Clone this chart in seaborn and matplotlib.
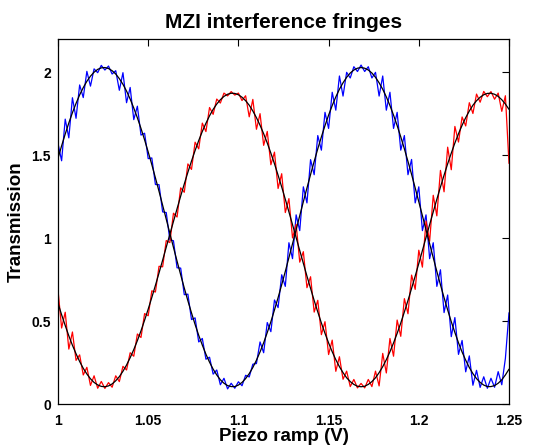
import numpy as np
import pandas as pd
import matplotlib
matplotlib.use("Agg")
import matplotlib.pyplot as plt
import seaborn as sns

# ---- data ----
x_start, x_stop, n_samples = 1.0, 1.25, 126   # sample grid of the piezo ramp

blue_signal = [1.571, 1.466, 1.717, 1.604, 1.846, 1.722, 1.923, 1.847, 2.005, 1.916,
               2.020, 1.997, 2.041, 2.013, 2.037, 1.989, 2.009, 1.891, 1.997, 1.816,
               1.908, 1.714, 1.795, 1.621, 1.632, 1.479, 1.483, 1.323, 1.322, 1.158,
               1.154, 0.989, 0.984, 0.821, 0.819, 0.659, 0.662, 0.509, 0.519, 0.374,
               0.395, 0.270, 0.282, 0.180, 0.205, 0.116, 0.155, 0.091, 0.125, 0.095,
               0.134, 0.110, 0.173, 0.163, 0.240, 0.244, 0.374, 0.309, 0.491, 0.436,
               0.627, 0.581, 0.779, 0.709, 0.972, 0.876, 1.140, 1.045, 1.309, 1.212,
               1.473, 1.382, 1.618, 1.530, 1.758, 1.661, 1.879, 1.771, 1.977, 1.856,
               1.999, 1.965, 2.033, 2.004, 2.043, 2.004, 2.033, 1.965, 1.999, 1.856,
               1.977, 1.771, 1.879, 1.661, 1.758, 1.530, 1.618, 1.382, 1.474, 1.212,
               1.309, 1.045, 1.140, 0.876, 0.972, 0.709, 0.809, 0.551, 0.657, 0.406,
               0.521, 0.299, 0.383, 0.194, 0.290, 0.113, 0.203, 0.100, 0.164, 0.095,
               0.155, 0.101, 0.195, 0.116, 0.275, 0.550]

red_signal = [0.687, 0.458, 0.553, 0.331, 0.434, 0.263, 0.296, 0.175, 0.221, 0.112,
              0.170, 0.095, 0.136, 0.094, 0.129, 0.101, 0.170, 0.135, 0.227, 0.205,
              0.309, 0.288, 0.422, 0.401, 0.545, 0.532, 0.682, 0.675, 0.830, 0.827,
              0.985, 0.973, 1.150, 1.127, 1.303, 1.276, 1.447, 1.414, 1.578, 1.538,
              1.693, 1.642, 1.787, 1.746, 1.838, 1.814, 1.874, 1.857, 1.883, 1.862,
              1.874, 1.829, 1.858, 1.731, 1.836, 1.656, 1.750, 1.559, 1.643, 1.442,
              1.518, 1.299, 1.388, 1.154, 1.238, 1.001, 1.083, 0.855, 0.918, 0.701,
              0.767, 0.554, 0.625, 0.418, 0.496, 0.298, 0.385, 0.197, 0.285, 0.149,
              0.198, 0.105, 0.148, 0.097, 0.124, 0.097, 0.148, 0.105, 0.198, 0.109,
              0.305, 0.187, 0.395, 0.288, 0.506, 0.408, 0.635, 0.544, 0.777, 0.691,
              0.927, 0.825, 1.103, 0.981, 1.258, 1.134, 1.408, 1.279, 1.548, 1.412,
              1.673, 1.579, 1.730, 1.676, 1.816, 1.751, 1.868, 1.819, 1.884, 1.852,
              1.883, 1.837, 1.874, 1.764, 1.858, 1.450]

blue_fit = [1.481, 1.556, 1.627, 1.694, 1.756, 1.812, 1.863, 1.907, 1.945, 1.976,
            2.000, 2.017, 2.026, 2.028, 2.022, 2.009, 1.989, 1.961, 1.927, 1.886,
            1.838, 1.784, 1.725, 1.661, 1.592, 1.519, 1.443, 1.363, 1.282, 1.198,
            1.114, 1.029, 0.944, 0.861, 0.779, 0.699, 0.622, 0.549, 0.479, 0.414,
            0.355, 0.300, 0.252, 0.210, 0.175, 0.146, 0.125, 0.111, 0.105, 0.105,
            0.114, 0.130, 0.153, 0.183, 0.220, 0.264, 0.314, 0.369, 0.431, 0.496,
            0.567, 0.641, 0.719, 0.799, 0.882, 0.966, 1.050, 1.135, 1.219, 1.302,
            1.383, 1.462, 1.538, 1.610, 1.678, 1.741, 1.799, 1.851, 1.897, 1.936,
            1.969, 1.995, 2.013, 2.024, 2.028, 2.024, 2.013, 1.995, 1.969, 1.936,
            1.897, 1.851, 1.799, 1.741, 1.678, 1.610, 1.538, 1.462, 1.384, 1.302,
            1.219, 1.135, 1.050, 0.966, 0.882, 0.799, 0.719, 0.641, 0.567, 0.496,
            0.431, 0.369, 0.313, 0.264, 0.220, 0.183, 0.153, 0.130, 0.114, 0.105,
            0.105, 0.111, 0.125, 0.146, 0.175, 0.210]

red_fit = [0.607, 0.538, 0.473, 0.411, 0.354, 0.303, 0.256, 0.215, 0.181, 0.152,
           0.130, 0.115, 0.106, 0.104, 0.109, 0.121, 0.140, 0.165, 0.197, 0.235,
           0.279, 0.328, 0.382, 0.441, 0.505, 0.572, 0.642, 0.715, 0.790, 0.867,
           0.945, 1.023, 1.100, 1.177, 1.253, 1.326, 1.397, 1.464, 1.528, 1.588,
           1.643, 1.692, 1.737, 1.776, 1.808, 1.834, 1.854, 1.867, 1.873, 1.872,
           1.864, 1.849, 1.828, 1.801, 1.766, 1.726, 1.680, 1.629, 1.573, 1.512,
           1.448, 1.379, 1.308, 1.234, 1.158, 1.081, 1.003, 0.925, 0.848, 0.771,
           0.697, 0.624, 0.555, 0.488, 0.426, 0.368, 0.315, 0.267, 0.225, 0.189,
           0.158, 0.135, 0.118, 0.107, 0.104, 0.107, 0.118, 0.135, 0.158, 0.189,
           0.225, 0.267, 0.315, 0.368, 0.426, 0.488, 0.555, 0.624, 0.697, 0.771,
           0.847, 0.925, 1.003, 1.081, 1.158, 1.234, 1.308, 1.379, 1.448, 1.512,
           1.573, 1.629, 1.680, 1.726, 1.766, 1.801, 1.828, 1.849, 1.864, 1.872,
           1.873, 1.867, 1.854, 1.834, 1.808, 1.776]

x_ticks = [1.0, 1.05, 1.1, 1.15, 1.2, 1.25]
x_tick_labels = ["1", "1.05", "1.1", "1.15", "1.2", "1.25"]
y_ticks = [0, 0.5, 1.0, 1.5, 2.0]
y_tick_labels = ["0", "0.5", "1", "1.5", "2"]

title_text = "MZI interference fringes"
x_label = "Piezo ramp (V)"
y_label = "Transmission"

# ---- figure ----
sns.set_theme(style="white")
plt.rcParams["font.family"] = ["Liberation Sans", "DejaVu Sans"]
plt.rcParams["font.weight"] = "bold"
plt.rcParams["text.color"] = "black"
plt.rcParams["axes.labelcolor"] = "black"
plt.rcParams["xtick.color"] = "black"
plt.rcParams["ytick.color"] = "black"

ramp = np.linspace(x_start, x_stop, n_samples)
df = pd.DataFrame({"ramp": ramp, "blue": blue_signal, "red": red_signal,
                   "blue_fit": blue_fit, "red_fit": red_fit})

fig = plt.figure(figsize=(5.36, 4.48), dpi=100)
ax = fig.add_axes([58 / 536, 44 / 448, 451 / 536, 365 / 448])

sns.lineplot(data=df, x="ramp", y="blue", color="#0000ff", linewidth=0.9, ax=ax, sort=False)
sns.lineplot(data=df, x="ramp", y="red", color="#ff0000", linewidth=0.9, ax=ax, sort=False)
sns.lineplot(data=df, x="ramp", y="blue_fit", color="black", linewidth=0.9, ax=ax, sort=False)
sns.lineplot(data=df, x="ramp", y="red_fit", color="black", linewidth=0.9, ax=ax, sort=False)

ax.set_xlim(1.0, 1.25)
ax.set_ylim(0, 2.2)
ax.set_xticks(x_ticks)
ax.set_xticklabels(x_tick_labels)
ax.set_yticks(y_ticks)
ax.set_yticklabels(y_tick_labels)
ax.tick_params(direction="in", length=5, width=0.8, top=True, right=True,
               labelsize=10, colors="black")
ax.tick_params(axis="x", pad=7)
ax.tick_params(axis="y", pad=5)
for lab in ax.get_xticklabels() + ax.get_yticklabels():
    lab.set_fontweight("bold")
    lab.set_color("black")
for sp in ax.spines.values():
    sp.set_visible(True)
    sp.set_color("black")
    sp.set_linewidth(0.9)

ax.set_title(title_text, fontsize=15, fontweight="bold", color="black", pad=8)
ax.set_xlabel(x_label, fontsize=13.5, fontweight="bold", color="black", labelpad=0)
ax.set_ylabel(y_label, fontsize=13.5, fontweight="bold", color="black", labelpad=5)
ax.grid(False)

fig.savefig("out.png", dpi=100, facecolor="white")
